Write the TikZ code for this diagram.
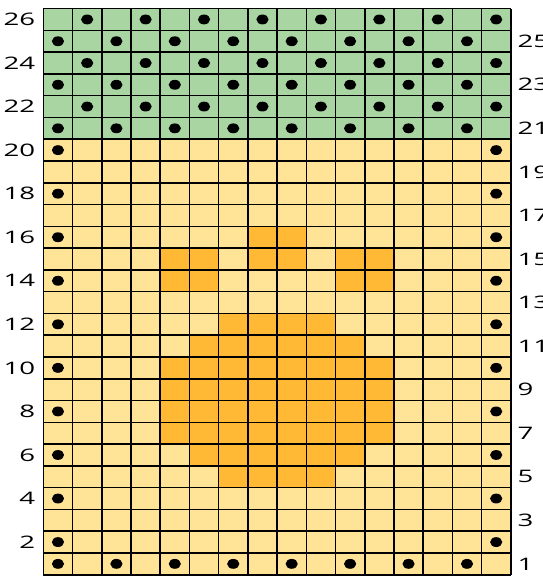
\documentclass[tikz,border=0pt]{standalone}
\usepackage{fontspec}
\setmainfont{Open Sans}
\usepackage{tikz}
\definecolor{chartgreen}{HTML}{A8D5A2}
\definecolor{chartyellow}{HTML}{FFE397}
\definecolor{chartorange}{HTML}{FFB935}

\begin{document}
\begin{tikzpicture}[x=29.65pt, y=22.1pt,
    rownum/.style={font=\fontsize{17.5}{17.5}\selectfont, xscale=1.6, inner sep=0pt},
    stitch/.style={fill=black}]
    \useasboundingbox (-1.484,-0.195) rectangle (17.1,26.394);

    % Draw background colours
    \fill[chartyellow] (0,0) rectangle (16,20);
    \fill[chartgreen] (0,20) rectangle (16,26);

    % Draw the motif (row/first/last column)
    \foreach \r/\a/\b in {16/8/9, 15/5/6, 15/8/9, 15/11/12, 14/5/6, 14/11/12,
        12/7/10, 11/6/11, 10/5/12, 9/5/12, 8/5/12, 7/5/12, 6/6/11, 5/7/10} {
        \fill[chartorange] (\a-1,\r-1) rectangle (\b,\r);
    }

    % Draw grid lines
    \foreach \i in {0,...,16} {
        \draw[line width=1.6pt] (\i,0) -- (\i,26);
    }
    \foreach \j in {0,...,26} {
        \draw[line width=1.6pt] (0,\j) -- (16,\j);
    }

    % Draw dots
    \foreach \r in {22,24,26} {
        \foreach \c in {2,4,...,16} {
            \fill[stitch] (\c-0.5,\r-0.5) ellipse [x radius=6.2pt, y radius=5pt];
        }
    }
    \foreach \r in {1,21,23,25} {
        \foreach \c in {1,3,...,15} {
            \fill[stitch] (\c-0.5,\r-0.5) ellipse [x radius=6.2pt, y radius=5pt];
        }
    }
    \foreach \r in {2,4,...,20} {
        \fill[stitch] (0.5,\r-0.5) ellipse [x radius=6.2pt, y radius=5pt];
        \fill[stitch] (15.5,\r-0.5) ellipse [x radius=6.2pt, y radius=5pt];
    }

    % Draw row numbers
    \foreach \r in {2,4,...,26} {
        \node[rownum, anchor=east] (left\r) at (-0.27,\r-0.5) {\r};
    }
    \foreach \r in {1,3,...,25} {
        \node[rownum, anchor=west] (right\r) at (16.22,\r-0.5) {\r};
    }
\end{tikzpicture}
\end{document}
